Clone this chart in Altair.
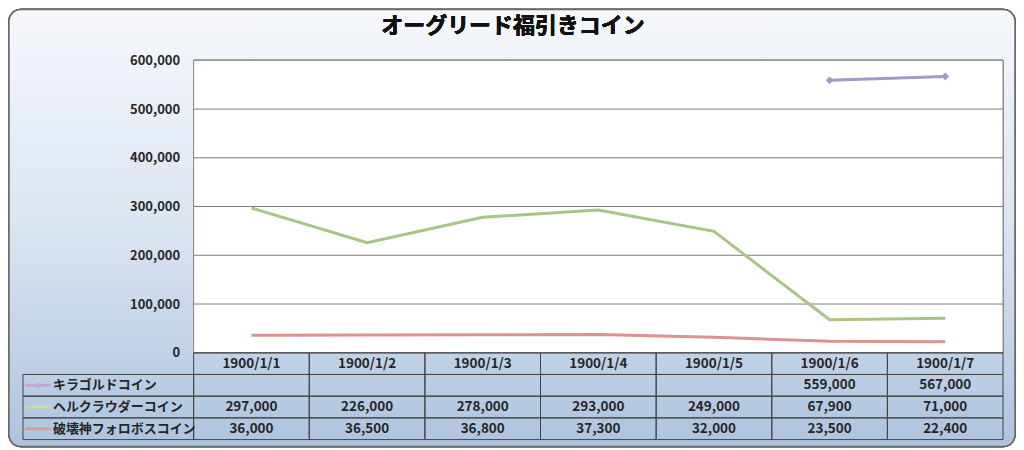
import altair as alt
import pandas as pd

# ---- data ----
dates = ["1900/1/1", "1900/1/2", "1900/1/3", "1900/1/4", "1900/1/5", "1900/1/6", "1900/1/7"]
series_names = ["キラゴルドコイン", "ヘルクラウダーコイン", "破壊神フォロボスコイン"]
kira = [None, None, None, None, None, 559000, 567000]
hell = [297000, 226000, 278000, 293000, 249000, 67900, 71000]
hakai = [36000, 36500, 36800, 37300, 32000, 23500, 22400]
y_ticks = [0, 100000, 200000, 300000, 400000, 500000, 600000]
colors = ["#a597c6", "#a8c584", "#d99391"]
legend_colors = ["#c4a8cf", "#c9dd98", "#e39b98"]
title_text = "オーグリード福引きコイン"

values = [kira, hell, hakai]
rows_order = ["header"] + series_names

long_rows = []
for name, vals in zip(series_names, values):
    for d, v in zip(dates, vals):
        long_rows.append({"date": d, "series": name, "value": v,
                          "label": "" if v is None else f"{v:,}"})
df = pd.DataFrame(long_rows)
df_lines = df.dropna(subset=["value"])
header_df = pd.DataFrame({"date": dates, "row": ["header"] * len(dates)})
legend_df = pd.DataFrame({"series": series_names, "row": series_names})
grid_df = pd.DataFrame({"tick": y_ticks[1:-1]})

W = 811
PH = 293
H = 380
FONT = "Noto Sans CJK JP"
TXT = "#262626"

xs = alt.Scale(type="band", domain=dates, paddingInner=0, paddingOuter=0)
ys_val = alt.Scale(domain=[0, 600000], range=[PH, 0])
ys_row = alt.Scale(domain=rows_order, range=[PH, H], paddingInner=0, paddingOuter=0)
cscale = alt.Scale(domain=series_names, range=colors)
lscale = alt.Scale(domain=series_names, range=legend_colors)

y_axis = alt.Axis(values=y_ticks, format=",.0f", grid=False, domain=False, ticks=False,
                  labelFont=FONT, labelFontSize=13, labelFontWeight="bold",
                  labelColor=TXT, labelPadding=14, title=None, zindex=1)

grad = alt.Gradient(
    gradient="linear", x1=0, y1=0, x2=0, y2=1,
    stops=[alt.GradientStop(offset=0, color="#f6f8fc"),
           alt.GradientStop(offset=0.5, color="#dbe4f1"),
           alt.GradientStop(offset=1, color="#aec3df")])

base = alt.Chart(df_lines)

bg = alt.Chart(header_df).mark_rect(
    fill=grad, stroke="#6b6b6b", strokeWidth=1.5, cornerRadius=12
).encode(x=alt.value(-185), x2=alt.value(823), y=alt.value(-51), y2=alt.value(387))

plot_bg = alt.Chart(header_df).mark_rect(
    fill="white", stroke="#8a8a8a", strokeWidth=1
).encode(x=alt.value(0), x2=alt.value(W), y=alt.value(0), y2=alt.value(PH))

title = alt.Chart(header_df).mark_text(
    text=title_text, font=FONT, fontSize=22, fontWeight="bold", color="#111"
).encode(x=alt.value(320), y=alt.value(-34))

gridlines = alt.Chart(grid_df).mark_rule(color="#7a7a7a", strokeWidth=1).encode(
    y=alt.Y("tick:Q", scale=ys_val, axis=y_axis)
)

lines = base.mark_line(strokeWidth=3).encode(
    x=alt.X("date:N", scale=xs, axis=None),
    y=alt.Y("value:Q", scale=ys_val, axis=y_axis),
    color=alt.Color("series:N", scale=cscale, legend=None),
    detail="series:N",
)
pts = base.transform_filter(alt.datum.series == series_names[0]).mark_point(
    shape="diamond", filled=True, size=60, opacity=1
).encode(
    x=alt.X("date:N", scale=xs, axis=None),
    y=alt.Y("value:Q", scale=ys_val, axis=y_axis),
    color=alt.Color("series:N", scale=cscale, legend=None),
)

top_group = alt.layer(gridlines, lines, pts)

# ---- data table ----
cells = alt.Chart(df).mark_rect(fill=None, stroke="#444", strokeWidth=1).encode(
    x=alt.X("date:N", scale=xs, axis=None),
    y=alt.Y("series:N", scale=ys_row, axis=None),
)
head_cells = alt.Chart(header_df).mark_rect(fill=None, stroke="#444", strokeWidth=1).encode(
    x=alt.X("date:N", scale=xs, axis=None),
    y=alt.Y("row:N", scale=ys_row, axis=None),
)
head_text = alt.Chart(header_df).mark_text(font=FONT, fontSize=13.5, fontWeight="bold", color=TXT).encode(
    x=alt.X("date:N", scale=xs, axis=None),
    y=alt.Y("row:N", scale=ys_row, axis=None),
    text="date:N",
)
val_text = alt.Chart(df).mark_text(font=FONT, fontSize=13.5, fontWeight="bold", color=TXT).encode(
    x=alt.X("date:N", scale=xs, axis=None),
    y=alt.Y("series:N", scale=ys_row, axis=None),
    text="label:N",
)
leg_cells = alt.Chart(legend_df).mark_rect(fill=None, stroke="#444", strokeWidth=1).encode(
    x=alt.value(-171), x2=alt.value(0),
    y=alt.Y("row:N", scale=ys_row, axis=None),
)
leg_lines = alt.Chart(legend_df).mark_rule(strokeWidth=3).encode(
    x=alt.value(-169), x2=alt.value(-143),
    y=alt.Y("row:N", scale=ys_row, axis=None, bandPosition=0.5),
    color=alt.Color("series:N", scale=lscale, legend=None),
)
leg_pt = alt.Chart(legend_df).transform_filter(alt.datum.series == series_names[0]).mark_point(
    shape="diamond", filled=True, size=40, opacity=1
).encode(
    x=alt.value(-156),
    y=alt.Y("row:N", scale=ys_row, axis=None),
    color=alt.Color("series:N", scale=lscale, legend=None),
)
leg_text = alt.Chart(legend_df).mark_text(
    font=FONT, fontSize=13, fontWeight="bold", color=TXT, align="left"
).encode(
    x=alt.value(-141),
    y=alt.Y("row:N", scale=ys_row, axis=None),
    text="series:N",
)

table_group = alt.layer(cells, head_cells, head_text, val_text, leg_cells, leg_lines, leg_pt, leg_text)

chart = alt.layer(
    alt.layer(bg, plot_bg, title), top_group, table_group
).resolve_scale(y="independent", color="independent").properties(
    width=W, height=H, padding=0
).configure_view(stroke=None, fill=None)

chart.save("out.html", embed_options={"renderer": "svg", "actions": False})
